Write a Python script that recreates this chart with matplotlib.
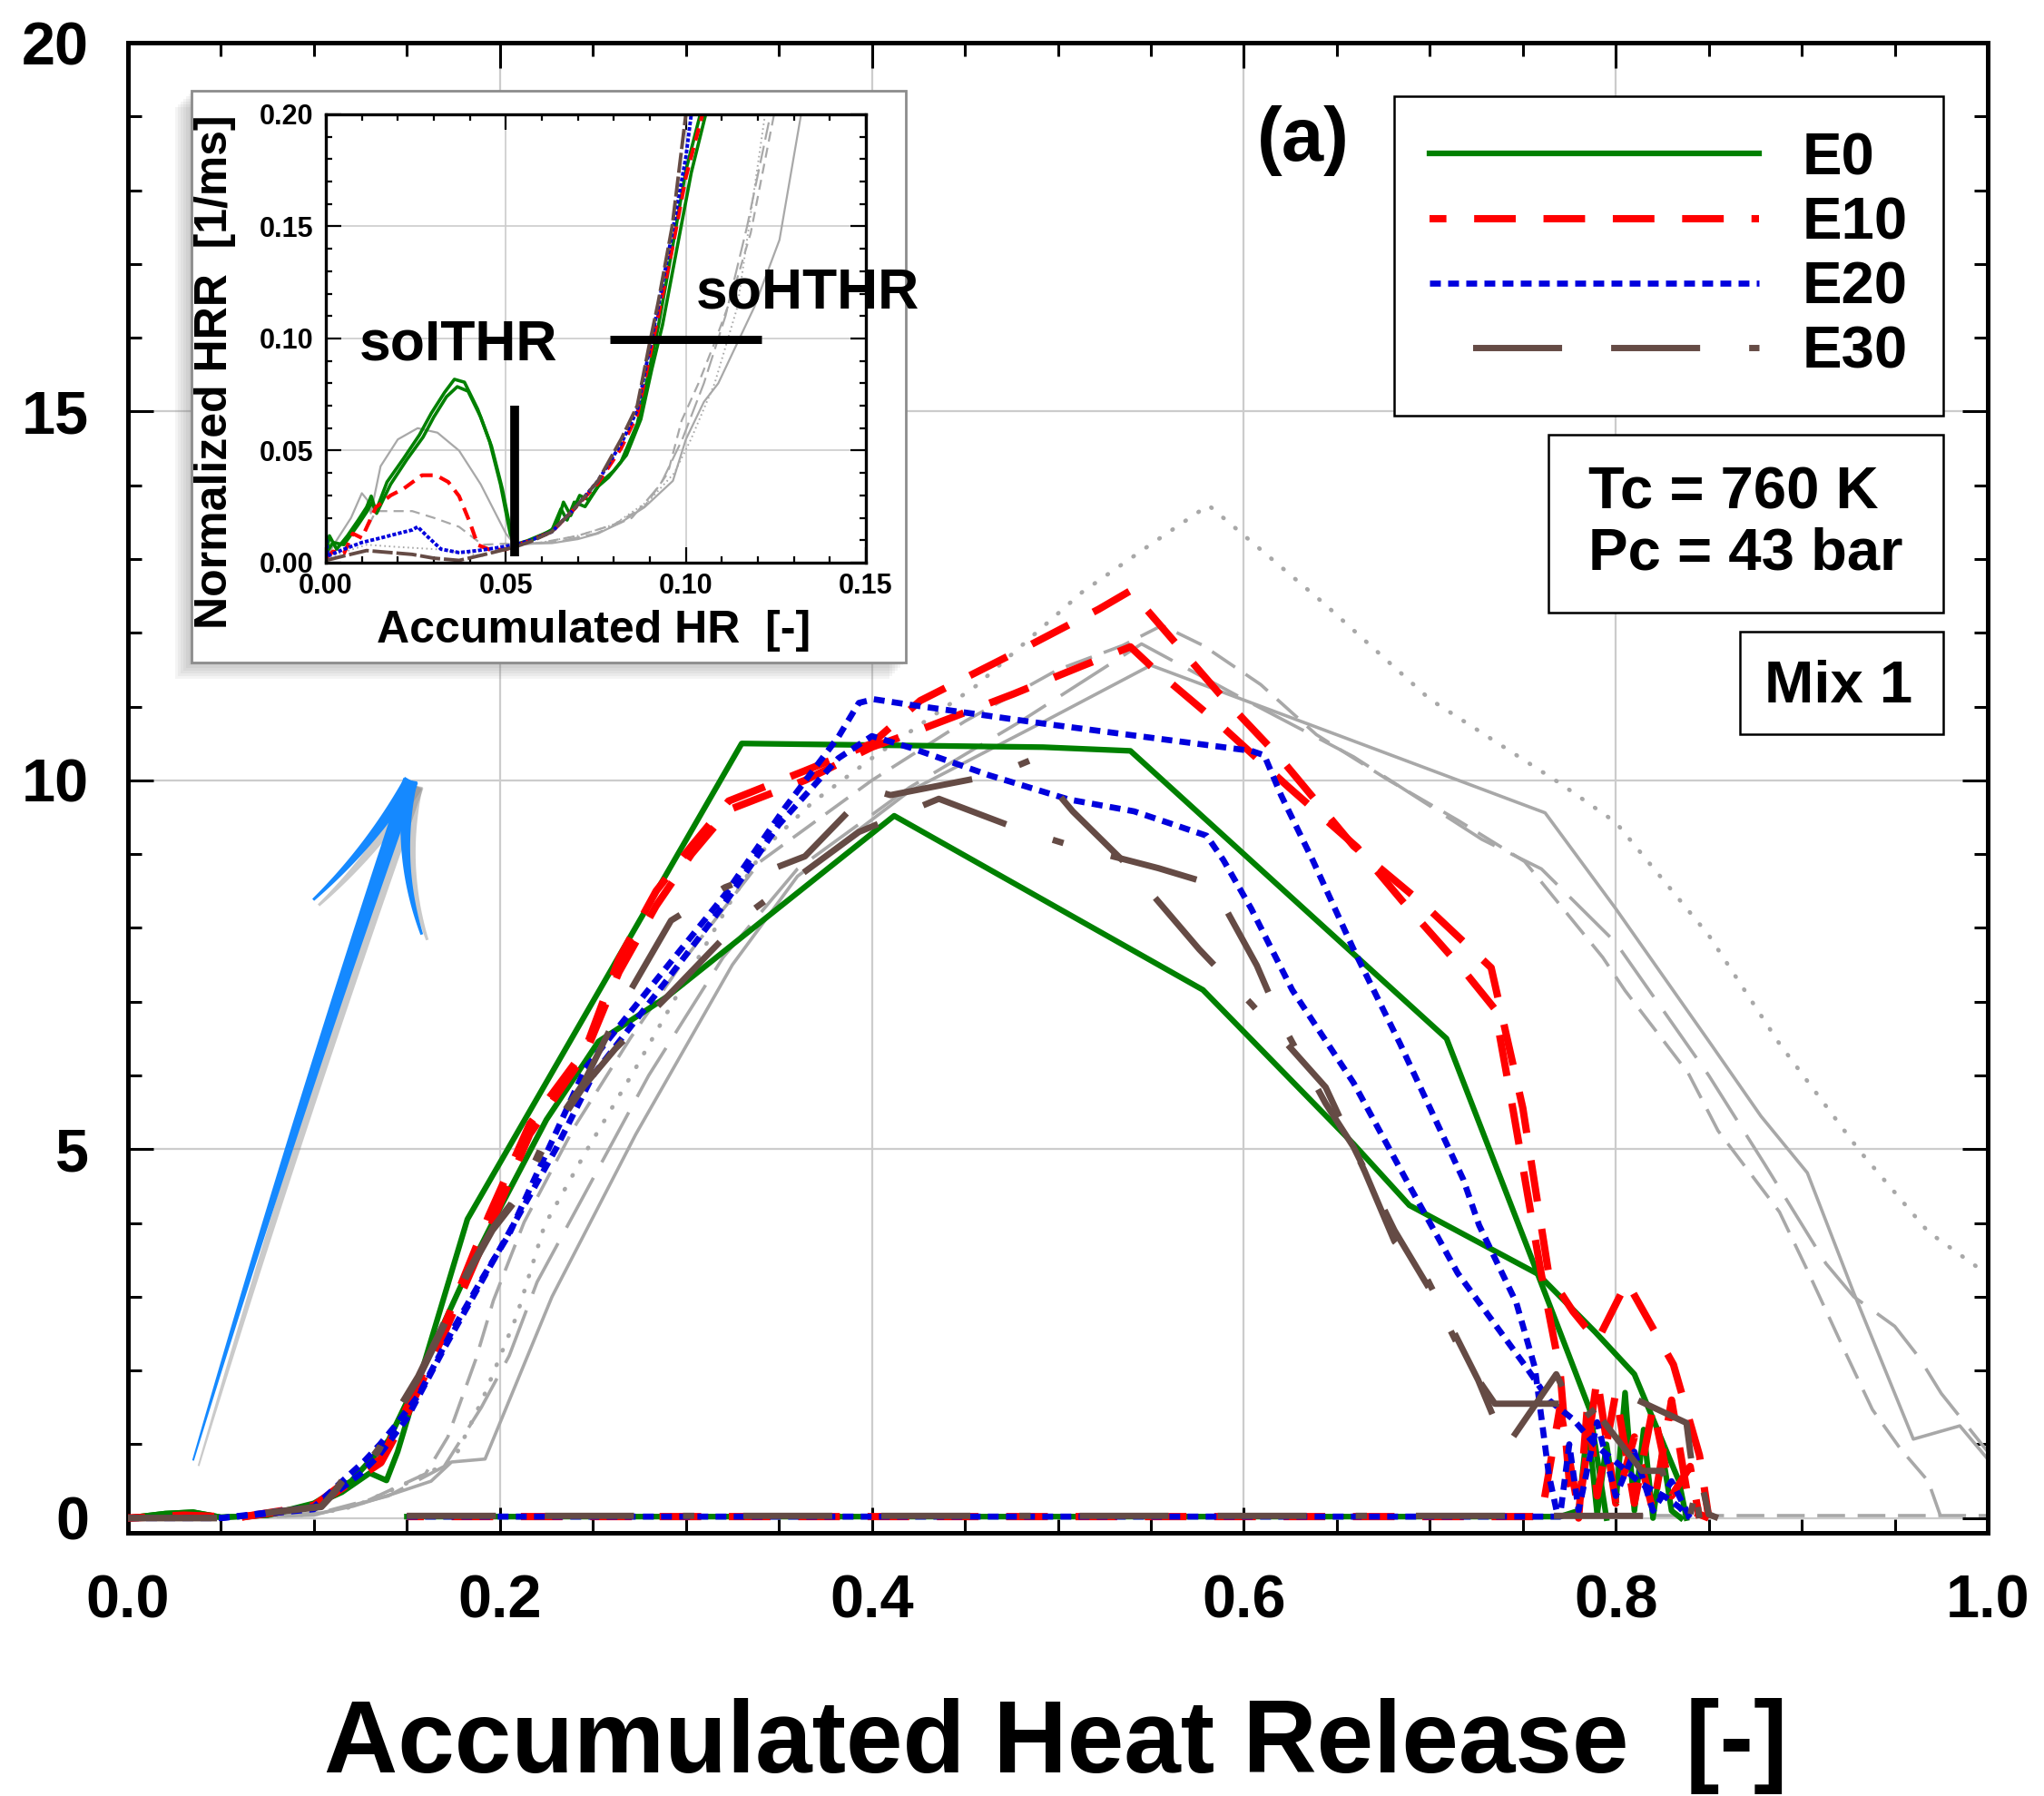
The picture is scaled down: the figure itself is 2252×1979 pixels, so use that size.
"""
Normalized heat release rate vs accumulated heat release, Mix 1 (Tc = 760 K,
Pc = 43 bar), ethanol blends E0-E30 with an inset zoom of the low-HR region.
"""

import numpy as np
import matplotlib
matplotlib.use("Agg")
import matplotlib.pyplot as plt
from matplotlib.lines import Line2D
from matplotlib.patches import Rectangle, Polygon
from matplotlib.ticker import FormatStrFormatter
from matplotlib.transforms import IdentityTransform

plt.rcParams['font.family'] = ['Liberation Sans', 'DejaVu Sans']
plt.rcParams['font.weight'] = 'bold'
plt.rcParams['lines.scale_dashes'] = False

W, H, DPI = 2252, 1979, 100

# ---------- main plot data ------------------------------------------------

e0_a_x = [0, 0.02, 0.035, 0.05, 0.075, 0.10, 0.115, 0.130, 0.139, 0.145, 0.1825,
          0.33, 0.492, 0.539, 0.709, 0.758, 0.786, 0.795]
e0_a_y = [0, 0.06, 0.08, 0.01, 0.04, 0.18, 0.35, 0.61, 0.51, 0.90, 4.05,
          10.5, 10.45, 10.40, 6.50, 3.31, 1.47, 0.0]

e0_b_x = [0, 0.02, 0.035, 0.05, 0.075, 0.10, 0.12, 0.14, 0.16, 0.18, 0.20, 0.225,
          0.253, 0.29, 0.412, 0.578, 0.659, 0.689, 0.758, 0.789, 0.81, 0.834, 0.838]
e0_b_y = [0, 0.06, 0.078, 0.01, 0.04, 0.2, 0.5, 1.05, 2.1, 3.2, 4.2, 5.4,
          6.46, 7.07, 9.52, 7.16, 5.07, 4.24, 3.31, 2.52, 1.95, 0.5, 0.0]

e0_c_x = [0.15, 0.30, 0.50, 0.70, 0.77, 0.78, 0.785, 0.79, 0.795, 0.80, 0.805,
          0.81, 0.815, 0.82, 0.825, 0.83, 0.835]
e0_c_y = [0.02, 0.02, 0.02, 0.02, 0.02, 0.1, 1.3, 0.05, 1.0, 0.2, 1.7,
          0.1, 1.2, 0.0, 0.9, 0.1, 0.0]

e10_a_x = [0, 0.03, 0.06, 0.10, 0.121, 0.136, 0.15, 0.17, 0.194, 0.216, 0.246,
           0.264, 0.284, 0.303, 0.323, 0.364, 0.40, 0.426, 0.484, 0.522, 0.539,
           0.587, 0.620, 0.659, 0.698, 0.733, 0.750, 0.764, 0.777, 0.79, 0.806,
           0.831, 0.845, 0.85]
e10_a_y = [0, 0.04, 0.01, 0.17, 0.57, 0.8, 1.5, 2.6, 4.1, 5.34, 6.36,
           7.58, 8.5, 9.11, 9.72, 10.13, 10.5, 11.08, 11.82, 12.32, 12.57,
           11.17, 10.29, 9.11, 8.29, 7.46, 5.56, 3.3, 2.8, 2.4, 3.2,
           2.08, 0.85, 0.0]

e10_b_x = [0, 0.03, 0.06, 0.10, 0.121, 0.136, 0.15, 0.17, 0.194, 0.216, 0.246,
           0.264, 0.284, 0.303, 0.323, 0.364, 0.40, 0.419, 0.476, 0.513, 0.539,
           0.55, 0.587, 0.624, 0.661, 0.685, 0.718, 0.735, 0.745, 0.76, 0.77,
           0.775, 0.78, 0.785, 0.79, 0.80, 0.81, 0.82, 0.83, 0.84, 0.845]
e10_b_y = [0, 0.03, 0.01, 0.15, 0.5, 0.75, 1.4, 2.5, 3.9, 5.2, 6.3,
           7.4, 8.3, 9.0, 9.6, 10.0, 10.45, 10.62, 11.17, 11.55, 11.81,
           11.55, 10.76, 9.91, 9.09, 8.37, 7.43, 6.9, 5.5, 3.3, 2.0,
           0.5, 0.0, 1.6, 0.3, 1.7, 0.2, 1.5, 0.3, 0.7, 0.0]

e10_c_x = [0.15, 0.40, 0.60, 0.76, 0.77, 0.78, 0.79, 0.80, 0.81, 0.82, 0.83, 0.84, 0.85]
e10_c_y = [0.02, 0.02, 0.02, 0.02, 1.5, 0.1, 1.9, 0.2, 1.1, 0.1, 1.6, 0.1, 0.0]

e20_a_x = [0, 0.05, 0.10, 0.127, 0.1355, 0.1433, 0.1564, 0.175, 0.191, 0.205,
           0.216, 0.226, 0.246, 0.29, 0.321, 0.353, 0.382, 0.393, 0.401, 0.419,
           0.495, 0.604, 0.611, 0.620, 0.637, 0.659, 0.684, 0.718, 0.7265,
           0.7465, 0.7565, 0.764, 0.769]
e20_a_y = [0, 0.0, 0.15, 0.77, 1.0, 1.24, 1.67, 2.57, 3.27, 3.85,
           4.46, 5.0, 6.1, 7.48, 8.45, 9.62, 10.59, 11.05, 11.1, 11.03,
           10.76, 10.4, 10.34, 9.8, 8.92, 7.71, 6.43, 4.59, 3.97,
           2.92, 2.04, 0.59, 0.0]

e20_b_x = [0, 0.05, 0.10, 0.125, 0.135, 0.15, 0.17, 0.19, 0.21, 0.23, 0.25, 0.29,
           0.32, 0.35, 0.382, 0.40, 0.421, 0.463, 0.506, 0.541, 0.580, 0.589,
           0.604, 0.615, 0.626, 0.659, 0.690, 0.715, 0.752, 0.764, 0.777, 0.789,
           0.802, 0.814, 0.827, 0.834, 0.84]
e20_b_y = [0, 0.0, 0.12, 0.6, 0.85, 1.35, 2.3, 3.2, 4.1, 5.0, 6.0, 7.3,
           8.3, 9.4, 10.3, 10.6, 10.44, 10.07, 9.74, 9.58, 9.25, 8.92,
           8.26, 7.71, 7.16, 5.9, 4.46, 3.32, 2.04, 1.6, 1.34, 0.99,
           0.72, 0.46, 0.28, 0.15, 0.0]

e20_c_x = [0.15, 0.40, 0.60, 0.77, 0.775, 0.78, 0.79, 0.80, 0.81, 0.82, 0.83, 0.84]
e20_c_y = [0.02, 0.02, 0.02, 0.02, 1.0, 0.1, 1.3, 0.3, 0.9, 0.1, 0.5, 0.0]

e30_a_x = [0, 0.05, 0.104, 0.111, 0.120, 0.125, 0.135, 0.144, 0.156, 0.167, 0.182,
           0.196, 0.212, 0.224, 0.245, 0.266, 0.292, 0.321, 0.364, 0.399, 0.41,
           0.467, 0.485, 0.508, 0.537, 0.576, 0.604, 0.644, 0.665, 0.681, 0.698,
           0.726, 0.741, 0.768, 0.78, 0.79, 0.804, 0.838, 0.84, 0.845]
e30_a_y = [0, 0.0, 0.16, 0.36, 0.69, 0.62, 0.95, 1.42, 1.92, 2.49, 3.31,
           3.93, 4.46, 5.12, 5.9, 6.97, 8.1, 8.55, 8.97, 9.88, 9.8,
           10.08, 10.27, 9.58, 8.86, 7.71, 6.97, 5.84, 4.7, 3.75, 3.27,
           1.87, 0.96, 1.95, 1.3, 1.5, 1.69, 1.29, 0.9, 0.0]

e30_b_x = [0, 0.05, 0.104, 0.111, 0.120, 0.125, 0.135, 0.144, 0.156, 0.167, 0.182,
           0.196, 0.212, 0.224, 0.245, 0.262, 0.290, 0.332, 0.393, 0.436, 0.480,
           0.508, 0.554, 0.583, 0.607, 0.620, 0.644, 0.659, 0.681, 0.70, 0.72,
           0.735, 0.77, 0.79, 0.814, 0.825, 0.83, 0.835]
e30_b_y = [0, 0.0, 0.15, 0.34, 0.66, 0.6, 0.92, 1.38, 1.88, 2.45, 3.27,
           3.9, 4.42, 5.05, 5.85, 6.36, 7.07, 8.17, 9.3, 9.75, 9.33,
           9.11, 8.81, 8.59, 7.49, 6.73, 5.62, 5.03, 3.9, 3.1, 2.1,
           1.55, 1.55, 1.42, 0.64, 0.64, 0.2, 0.0]

e30_c_x = [0.15, 0.40, 0.60, 0.80, 0.84, 0.845, 0.85, 0.855]
e30_c_y = [0.03, 0.03, 0.03, 0.03, 0.03, 0.6, 0.05, 0.0]

ref_solid_x = [0, 0.05, 0.104, 0.121, 0.144, 0.163, 0.174, 0.192, 0.228, 0.273,
               0.325, 0.36, 0.42, 0.492, 0.550, 0.653, 0.762, 0.800, 0.851,
               0.878, 0.903, 0.928, 0.960, 0.985, 1.0]
ref_solid_y = [0, 0.0, 0.07, 0.16, 0.34, 0.5, 0.76, 0.8, 3.0, 5.2,
               7.5, 8.7, 9.85, 10.79, 11.56, 10.59, 9.56, 8.26, 6.43,
               5.45, 4.68, 3.05, 1.07, 1.25, 0.8]

ref_dot_x = [0, 0.05, 0.10, 0.122, 0.148, 0.175, 0.191, 0.209, 0.224, 0.247, 0.273,
             0.30, 0.325, 0.343, 0.368, 0.40, 0.456, 0.513, 0.550, 0.581, 0.643,
             0.70, 0.77, 0.80, 0.85, 0.888, 0.931, 0.968, 1.0]
ref_dot_y = [0, 0.0, 0.05, 0.16, 0.45, 0.78, 1.63, 2.74, 3.97, 5.0, 6.1,
             7.3, 8.4, 9.1, 9.7, 10.3, 11.28, 12.55, 13.2, 13.73, 12.4,
             11.1, 9.96, 9.43, 7.9, 6.43, 4.98, 3.88, 3.3]

ref_dash_x = [0, 0.05, 0.10, 0.13, 0.16, 0.172, 0.187, 0.1965, 0.213, 0.24, 0.27,
              0.30, 0.34, 0.40, 0.45, 0.50, 0.535, 0.556, 0.578, 0.609, 0.639,
              0.678, 0.715, 0.751, 0.793, 0.805, 0.839, 0.855, 0.888, 0.903,
              0.923, 0.938, 0.953, 0.968, 0.975]
ref_dash_y = [0, 0.0, 0.05, 0.25, 0.6, 1.1, 2.15, 2.95, 4.01, 5.3, 6.5,
              7.6, 8.9, 10.0, 10.8, 11.5, 11.83, 12.1, 11.83, 11.3, 10.62,
              10.0, 9.46, 8.9, 7.6, 7.15, 6.03, 5.25, 4.15, 3.36,
              2.27, 1.47, 0.94, 0.5, 0.0]

ref_ldash_x = [0, 0.05, 0.10, 0.14, 0.17, 0.19, 0.205, 0.22, 0.25, 0.28, 0.32,
               0.36, 0.42, 0.48, 0.545, 0.60, 0.659, 0.728, 0.76, 0.80, 0.85,
               0.88, 0.913, 0.928, 0.95, 0.963, 0.975, 1.0]
ref_ldash_y = [0, 0.0, 0.04, 0.3, 0.7, 1.5, 2.2, 3.2, 4.6, 6.0, 7.6,
               8.8, 9.9, 10.8, 11.85, 11.1, 10.32, 9.2, 8.8, 7.8, 6.0,
               4.8, 3.45, 3.0, 2.6, 2.18, 1.69, 0.9]

ref_flat_x = [0.80, 1.0]
ref_flat_y = [0.03, 0.03]

# ---------- inset data ----------------------------------------------------

in_e0_a_x = [0.0, 0.001, 0.003, 0.006, 0.009, 0.0113, 0.0126, 0.0139, 0.017, 0.0216,
             0.026, 0.0293, 0.033, 0.0357, 0.0385, 0.0422, 0.0455, 0.0485, 0.0512,
             0.0525, 0.056, 0.060, 0.0628, 0.0653, 0.067, 0.069, 0.072, 0.0756,
             0.0785, 0.082, 0.0865, 0.0897, 0.0923, 0.0962, 0.100, 0.104]
in_e0_a_y = [0.003, 0.012, 0.006, 0.012, 0.019, 0.0247, 0.0297, 0.023, 0.036, 0.0465,
             0.057, 0.0667, 0.076, 0.0818, 0.0805, 0.0684, 0.054, 0.035, 0.0129,
             0.008, 0.0098, 0.0125, 0.0145, 0.024, 0.019, 0.027, 0.025, 0.034,
             0.038, 0.045, 0.062, 0.085, 0.105, 0.14, 0.175, 0.2]

in_e0_b_x = [0.0, 0.002, 0.005, 0.009, 0.0115, 0.0128, 0.0141, 0.018, 0.0225, 0.027,
             0.030, 0.0335, 0.0365, 0.0395, 0.043, 0.046, 0.049, 0.0515, 0.053,
             0.057, 0.061, 0.064, 0.066, 0.068, 0.0705, 0.073, 0.0765, 0.080,
             0.0835, 0.0875, 0.0905, 0.0935, 0.0975, 0.1015, 0.1055]
in_e0_b_y = [0.004, 0.009, 0.008, 0.017, 0.023, 0.027, 0.022, 0.035, 0.046, 0.056,
             0.065, 0.074, 0.0785, 0.0765, 0.065, 0.052, 0.033, 0.013, 0.008,
             0.010, 0.013, 0.016, 0.027, 0.021, 0.030, 0.028, 0.036, 0.041,
             0.048, 0.064, 0.086, 0.106, 0.14, 0.174, 0.2]

in_e10_x = [0.0, 0.002, 0.005, 0.0075, 0.010, 0.0139, 0.018, 0.0216, 0.0267, 0.0306,
            0.034, 0.037, 0.040, 0.0422, 0.046, 0.050, 0.0525, 0.057, 0.0628, 0.069,
            0.0756, 0.082, 0.0865, 0.0897, 0.0923, 0.0962, 0.100, 0.1046]
in_e10_y = [0.002, 0.005, 0.004, 0.013, 0.011, 0.0247, 0.030, 0.033, 0.039, 0.039,
            0.036, 0.0297, 0.018, 0.0079, 0.0055, 0.006, 0.0075, 0.010, 0.0138, 0.024,
            0.0355, 0.051, 0.066, 0.09, 0.11, 0.14, 0.172, 0.2]

in_e20_x = [0.0, 0.0005, 0.002, 0.005, 0.010, 0.0152, 0.020, 0.024, 0.0255, 0.028,
            0.032, 0.037, 0.0422, 0.047, 0.0525, 0.057, 0.0628, 0.069, 0.0756, 0.082,
            0.0865, 0.0897, 0.0923, 0.0962, 0.100, 0.1015]
in_e20_y = [0.013, 0.003, 0.004, 0.006, 0.009, 0.011, 0.013, 0.0146, 0.016, 0.012,
            0.006, 0.0045, 0.0054, 0.0065, 0.008, 0.010, 0.0138, 0.024, 0.0365, 0.053,
            0.068, 0.0936, 0.114, 0.147, 0.181, 0.2]

in_e30_x = [0.0, 0.005, 0.0113, 0.018, 0.024, 0.030, 0.037, 0.045, 0.0525, 0.057,
            0.0628, 0.069, 0.0756, 0.082, 0.0865, 0.0897, 0.0923, 0.0962, 0.100]
in_e30_y = [0.001, 0.003, 0.0054, 0.0045, 0.0037, 0.002, 0.001, 0.004, 0.007, 0.0095,
            0.0138, 0.024, 0.0365, 0.055, 0.07, 0.096, 0.116, 0.15, 0.2]

in_ref_solid_x = [0.0, 0.003, 0.007, 0.010, 0.0115, 0.0125, 0.0152, 0.020, 0.0255,
                  0.031, 0.037, 0.043, 0.050, 0.0525, 0.058, 0.0628, 0.070, 0.0756,
                  0.082, 0.0885, 0.0964, 0.100, 0.105, 0.109, 0.113, 0.119, 0.126, 0.132]
in_ref_solid_y = [0.002, 0.010, 0.020, 0.031, 0.028, 0.022, 0.043, 0.055, 0.060,
                  0.058, 0.050, 0.035, 0.013, 0.008, 0.0085, 0.0087, 0.0105, 0.013,
                  0.018, 0.0247, 0.0365, 0.055, 0.0717, 0.080, 0.0936, 0.114, 0.144, 0.2]

in_ref_dash_x = [0.012, 0.0139, 0.018, 0.024, 0.030, 0.037, 0.0435, 0.050, 0.0525,
                 0.06, 0.07, 0.08, 0.0885, 0.095, 0.0988, 0.1035, 0.1077, 0.113, 0.118, 0.1245]
in_ref_dash_y = [0.017, 0.023, 0.023, 0.023, 0.020, 0.016, 0.008, 0.0085, 0.008,
                 0.009, 0.012, 0.017, 0.025, 0.040, 0.0633, 0.08, 0.097, 0.12, 0.147, 0.2]

in_ref_dot_x = [0.0, 0.0113, 0.020, 0.0306, 0.040, 0.0435, 0.0525, 0.06, 0.07, 0.08,
                0.09, 0.0968, 0.1014, 0.108, 0.1143, 0.122]
in_ref_dot_y = [0.002, 0.008, 0.007, 0.006, 0.004, 0.003, 0.008, 0.009, 0.012, 0.017,
                0.028, 0.04, 0.055, 0.08, 0.114, 0.2]

in_ref_ldash_x = [0.0525, 0.065, 0.075, 0.085, 0.093, 0.099, 0.105, 0.111, 0.117, 0.1235]
in_ref_ldash_y = [0.008, 0.0095, 0.013, 0.02, 0.035, 0.055, 0.08, 0.11, 0.15, 0.2]

# onset markers in the inset (x of soITHR end, y of soHTHR threshold)
soithr_x, soithr_y = [0.0524, 0.0524], [0.003, 0.070]
sohthr_x, sohthr_y = [0.079, 0.121], [0.0996, 0.0996]

# arrow annotation (main-axis data coords)
arrow_tail = (0.035, 0.78)
arrow_tip = (0.152, 10.0)
arrow_barb_l = (0.0996, 8.38)
arrow_barb_r = (0.158, 7.91)

labels = ["E0", "E10", "E20", "E30"]

# ---------- styles --------------------------------------------------------

GREEN, RED, BLUE, BROWN, GRAY = "#008000", "#ff0000", "#0000dd", "#654b45", "#a8a8a8"
ARROW = "#1589ff"

red_ls = (19.6, (33, 22))
blue_ls = (0, (8.6, 5.8))
brown_ls = (232.6, (70.6, 38.9, 70.6, 38.9, 8.9, 38.9))

# ---------- figure --------------------------------------------------------

fig = plt.figure(figsize=(W / DPI, H / DPI), dpi=DPI)
ax = fig.add_axes([141 / W, 1 - 1689 / H, (2190 - 141) / W, (1689 - 47) / H])

# reference (gray) curves
ax.plot(ref_solid_x, ref_solid_y, color=GRAY, lw=2.6, zorder=2)
ax.plot(ref_dash_x, ref_dash_y, color=GRAY, lw=2.6, ls=(0, (22, 10)), zorder=2)
ax.plot(ref_ldash_x, ref_ldash_y, color=GRAY, lw=2.6, ls=(0, (45, 14)), zorder=2)
ax.plot(ref_dot_x, ref_dot_y, color=GRAY, lw=3.4, ls=(0, (0.5, 12)),
        dash_capstyle="round", zorder=2)
ax.plot(ref_flat_x, ref_flat_y, color=GRAY, lw=2.6, ls=(0, (22, 10)), zorder=2)

for xs, ys in [(e0_a_x, e0_a_y), (e0_b_x, e0_b_y), (e0_c_x, e0_c_y)]:
    ax.plot(xs, ys, color=GREEN, lw=4.5, zorder=3)
for xs, ys in [(e10_a_x, e10_a_y), (e10_b_x, e10_b_y), (e10_c_x, e10_c_y)]:
    ax.plot(xs, ys, color=RED, lw=5.8, ls=red_ls, zorder=4)
for xs, ys in [(e20_a_x, e20_a_y), (e20_b_x, e20_b_y), (e20_c_x, e20_c_y)]:
    ax.plot(xs, ys, color=BLUE, lw=4.8, ls=blue_ls, zorder=5)
for xs, ys in [(e30_a_x, e30_a_y), (e30_b_x, e30_b_y), (e30_c_x, e30_c_y)]:
    ax.plot(xs, ys, color=BROWN, lw=5.0, ls=(0, (70.6, 38.9, 70.6, 38.9, 8.9, 38.9)),
            zorder=6)

ax.set_xlim(0, 1)
ax.set_ylim(-0.2, 20)
ax.set_xticks(np.arange(0, 1.01, 0.2))
ax.set_xticks(np.arange(0, 1.001, 0.05), minor=True)
ax.set_yticks([0, 5, 10, 15, 20])
ax.set_yticks(np.arange(0, 21, 1), minor=True)
ax.xaxis.set_major_formatter(FormatStrFormatter("%.1f"))
ax.tick_params(which="both", direction="in", top=True, right=True, width=2.2)
ax.tick_params(which="major", length=20, labelsize=48)
ax.tick_params(axis="x", which="major", pad=33)
ax.tick_params(axis="y", which="major", pad=31)
ax.tick_params(which="minor", length=11)
ax.grid(True, which="major", color="#cccccc", lw=1.6)
ax.set_axisbelow(True)
for s in ax.spines.values():
    s.set_linewidth(3.6)

fig.text(1163 / W, 1 - 1953 / H, "Accumulated Heat Release  [-]",
         ha="center", va="baseline", fontsize=81, fontweight="bold")

ax.text(0.632, 18.67, "(a)", ha="center", va="center", fontsize=60,
        fontweight="bold", zorder=8)

# legend
handles = [
    Line2D([], [], color=GREEN, lw=4.5),
    Line2D([], [], color=RED, lw=5.8, ls=red_ls),
    Line2D([], [], color=BLUE, lw=4.8, ls=blue_ls),
    Line2D([], [], color=BROWN, lw=5.0, ls=brown_ls),
]
leg = ax.legend(handles, labels, loc="upper right", bbox_to_anchor=(0.976, 0.964),
                borderaxespad=0, frameon=True, fancybox=False,
                edgecolor="black", framealpha=1, handlelength=5.56,
                handletextpad=0.73, borderpad=0.6, labelspacing=0.17,
                prop={"weight": "bold", "size": 47})
leg.get_frame().set_linewidth(1.8)
leg.set_zorder(9)

# condition boxes
ax.add_patch(Rectangle((0.764, 0.6175), 0.212, 0.1195, transform=ax.transAxes,
                       facecolor="white", edgecolor="black", lw=1.8, zorder=9))
ax.text(0.8696, 0.677, "Tc = 760 K\nPc = 43 bar", transform=ax.transAxes,
        ha="center", va="center", multialignment="left", fontsize=47,
        fontweight="bold", linespacing=1.15, zorder=10)
ax.add_patch(Rectangle((0.867, 0.5357), 0.109, 0.0693, transform=ax.transAxes,
                       facecolor="white", edgecolor="black", lw=1.8, zorder=9))
ax.text(0.92, 0.5677, "Mix 1", transform=ax.transAxes, ha="center", va="center",
        fontsize=47, fontweight="bold", zorder=10)


# blue arrow: tapered strokes in pixel space
def tapered(p0, p1, bend, w0, w1, n=60):
    p0, p1 = np.asarray(p0, float), np.asarray(p1, float)
    mid = (p0 + p1) / 2
    d = p1 - p0
    nrm = np.array([-d[1], d[0]]) / np.hypot(*d)
    ctrl = mid + nrm * bend
    t = np.linspace(0, 1, n)[:, None]
    pts = (1 - t) ** 2 * p0 + 2 * (1 - t) * t * ctrl + t ** 2 * p1
    g = np.gradient(pts, axis=0)
    nn = np.stack([-g[:, 1], g[:, 0]], 1)
    nn /= np.linalg.norm(nn, axis=1, keepdims=True)
    w = (w0 + (w1 - w0) * t) / 2
    return np.vstack([pts + nn * w, (pts - nn * w)[::-1]])


to_px = ax.transData.transform
tail, tip = to_px(arrow_tail), to_px(arrow_tip)
bl, br = to_px(arrow_barb_l), to_px(arrow_barb_r)
strokes = [tapered(tail, tip, 8, 2, 17), tapered(bl, tip, -12, 3, 15),
           tapered(br, tip, 22, 3, 15)]
for poly in strokes:
    ax.add_patch(Polygon(poly + np.array([6, -6]), closed=True, transform=IdentityTransform(),
                         facecolor="#8a8a8a", edgecolor="none", alpha=0.45, zorder=6.5))
    ax.add_patch(Polygon(poly, closed=True, transform=IdentityTransform(),
                         facecolor=ARROW, edgecolor="none", zorder=7))

# ---------- inset ---------------------------------------------------------

bx0, by0, bx1, by1 = 211 / W, 1 - 730 / H, 998 / W, 1 - 100 / H
for k in range(6, 0, -1):
    fig.add_artist(Rectangle((bx0 - k * 3 / W, by0 - k * 3 / H), bx1 - bx0, by1 - by0,
                             transform=fig.transFigure, facecolor="#707070",
                             edgecolor="none", alpha=0.07, zorder=3))
fig.add_artist(Rectangle((bx0, by0), bx1 - bx0, by1 - by0, transform=fig.transFigure,
                         facecolor="white", edgecolor="#8c8c8c", lw=2.0, zorder=3.5))

ins = fig.add_axes([359 / W, 1 - 620 / H, 595 / W, 494 / H], zorder=5)
ins.plot(in_ref_solid_x, in_ref_solid_y, color=GRAY, lw=1.6)
ins.plot(in_ref_dash_x, in_ref_dash_y, color=GRAY, lw=1.6, ls=(0, (8, 5)))
ins.plot(in_ref_ldash_x, in_ref_ldash_y, color=GRAY, lw=1.6, ls=(0, (14, 5)))
ins.plot(in_ref_dot_x, in_ref_dot_y, color=GRAY, lw=1.4, ls=(0, (1.2, 2.5)))
ins.plot(in_e0_a_x, in_e0_a_y, color=GREEN, lw=2.6)
ins.plot(in_e0_b_x, in_e0_b_y, color=GREEN, lw=2.6)
ins.plot(in_e10_x, in_e10_y, color=RED, lw=3.0, ls=(0, (10, 6)))
ins.plot(in_e20_x, in_e20_y, color=BLUE, lw=2.8, ls=(0, (3, 1.5)))
ins.plot(in_e30_x, in_e30_y, color=BROWN, lw=2.8, ls=(0, (16, 3)))
ins.plot(soithr_x, soithr_y, color="black", lw=7, solid_capstyle="butt")
ins.plot(sohthr_x, sohthr_y, color="black", lw=6.5, solid_capstyle="butt")
ins.text(0.0367, 0.0903, "soITHR", ha="center", va="baseline", fontsize=45,
         fontweight="bold")
ins.text(0.1339, 0.1134, "soHTHR", ha="center", va="baseline", fontsize=45,
         fontweight="bold", clip_on=False)

ins.set_xlim(0, 0.15)
ins.set_ylim(0, 0.2)
ins.set_xticks([0, 0.05, 0.10, 0.15])
ins.set_xticks(np.arange(0, 0.1501, 0.01), minor=True)
ins.set_yticks([0, 0.05, 0.10, 0.15, 0.20])
ins.set_yticks(np.arange(0, 0.2001, 0.01), minor=True)
ins.xaxis.set_major_formatter(FormatStrFormatter("%.2f"))
ins.yaxis.set_major_formatter(FormatStrFormatter("%.2f"))
ins.tick_params(which="both", direction="in", top=True, right=True, width=1.6)
ins.tick_params(which="major", length=12, labelsize=22)
ins.tick_params(axis="x", which="major", pad=8)
ins.tick_params(axis="y", which="major", pad=10)
ins.tick_params(which="minor", length=5)
ins.grid(True, which="major", color="#cccccc", lw=1.2)
ins.set_axisbelow(True)
for s in ins.spines.values():
    s.set_linewidth(2.4)
ins.set_xlabel("Accumulated HR  [-]", fontsize=36, fontweight="bold", va="top")
ins.xaxis.set_label_coords(0.496, -0.106)
ins.set_ylabel("Normalized HRR  [1/ms]", fontsize=36, fontweight="bold", va="center")
ins.yaxis.set_label_coords(-0.205, 0.425)

fig.savefig("out.png", dpi=DPI)
